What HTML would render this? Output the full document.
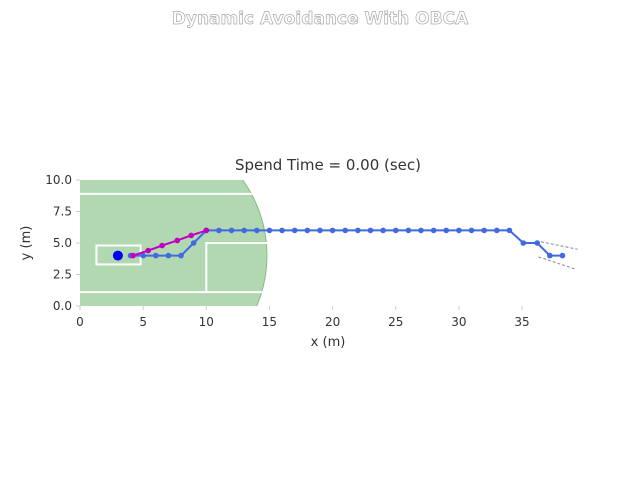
<!DOCTYPE html>
<html><head><meta charset="utf-8"><style>
body{margin:0;background:#fff;}
svg text{font-family:"DejaVu Sans","Liberation Sans",sans-serif;}
</style></head><body>
<svg id="c" width="640" height="480" viewBox="0 0 640 480" xmlns="http://www.w3.org/2000/svg">
<defs><clipPath id="ax"><rect x="80" y="180" width="500" height="126"/></clipPath></defs>
<text x="320" y="24" text-anchor="middle" font-size="17" font-weight="bold" fill="#fff" stroke="#aaa" stroke-width="0.7">Dynamic Avoidance With OBCA</text>
<text x="328" y="170" text-anchor="middle" font-size="15" fill="#333">Spend Time = 0.00 (sec)</text>
<g id="plot" clip-path="url(#ax)"></g>
<g id="axes"></g>
<text x="328" y="346" text-anchor="middle" font-size="13" fill="#333">x (m)</text>
<text x="30" y="243" text-anchor="middle" font-size="13" fill="#333" transform="rotate(-90 30 243)">y (m)</text>
</svg>
<script>
const xTicks=[0,5,10,15,20,25,30,35];
const yTicks=[0,2.5,5,7.5,10];
const yTickLabels=["0.0","2.5","5.0","7.5","10.0"];
const refX=[4,5,6,7,8,9,10,11,12,13,14,15,16,17,18,19,20,21,22,23,24,25,26,27,28,29,30,31,32,33,34,35.1,36.2,37.2,38.2];
const refY=[4,4,4,4,4,5,6,6,6,6,6,6,6,6,6,6,6,6,6,6,6,6,6,6,6,6,6,6,6,6,6,5,5,4,4];
const optX=[4.2,5.4,6.5,7.7,8.8,10];
const optY=[4,4.4,4.8,5.2,5.6,6];
const egoX=[3.0], egoY=[4.0];
const sx=v=>80+v*12.63, sy=v=>306-v*12.6;
const NS="http://www.w3.org/2000/svg";
const plot=document.getElementById('plot'), axes=document.getElementById('axes');
function mk(p,tag,at){const e=document.createElementNS(NS,tag);for(const k in at)e.setAttribute(k,at[k]);p.appendChild(e);return e;}
let e;
e=mk(plot,'circle',{cx:sx(4.5),cy:sy(4),r:10.3*12.63,fill:'#b2d8b2',stroke:'#7fbf7f','stroke-width':1});


e=mk(plot,'polyline',{points:`${sx(0)},${sy(8.9)} ${sx(15.2)},${sy(8.9)}`,stroke:'#fff','stroke-width':2,fill:'none'});


e=mk(plot,'polyline',{points:`${sx(0)},${sy(1.1)} ${sx(15.2)},${sy(1.1)}`,stroke:'#fff','stroke-width':2,fill:'none'});


e=mk(plot,'polyline',{points:`${sx(15.2)},${sy(5)} ${sx(10)},${sy(5)} ${sx(10)},${sy(1.1)}`,stroke:'#fff','stroke-width':2,fill:'none'});


e=mk(plot,'rect',{x:sx(1.3),y:sy(4.8),width:3.5*12.63,height:1.5*12.6,stroke:'#fff','stroke-width':2,fill:'none'});


e=mk(plot,'polyline',{points:`${sx(36.5)},${sy(5.1)} ${sx(39.4)},${sy(4.5)}`,stroke:'#888','stroke-width':1,'stroke-dasharray':'3,2',fill:'none'});


e=mk(plot,'polyline',{points:`${sx(36.3)},${sy(3.9)} ${sx(39.3)},${sy(2.9)}`,stroke:'#888','stroke-width':1,'stroke-dasharray':'3,2',fill:'none'});


function line(xs,ys,col,name){
 const l=mk(plot,'polyline',{points:xs.map((x,i)=>sx(x)+','+sy(ys[i])).join(' '),stroke:col,'stroke-width':2,fill:'none'});
 
 
 xs.forEach((x,i)=>{const c=mk(plot,'circle',{cx:sx(x),cy:sy(ys[i]),r:2.8,fill:col});
 
 });
}
line(refX,refY,'#4169e1','reference-path');
line(optX,optY,'#c000c0','optimized-path');
e=mk(plot,'circle',{cx:sx(egoX[0]),cy:sy(egoY[0]),r:5,fill:'#0000ff'});


xTicks.forEach(t=>{const x=sx(t);mk(axes,'line',{x1:x,y1:306,x2:x,y2:310,stroke:'#ccc'});
 const tx=mk(axes,'text',{x:x,y:326,'text-anchor':'middle','font-size':12,fill:'#333'});tx.textContent=t;
 
 });
yTicks.forEach((t,i)=>{const y=sy(t);mk(axes,'line',{x1:76,y1:y,x2:80,y2:y,stroke:'#ccc'});
 const tx=mk(axes,'text',{x:72,y:y+4,'text-anchor':'end','font-size':12,fill:'#333'});tx.textContent=yTickLabels[i];
 
 });
</script>
</body></html>
